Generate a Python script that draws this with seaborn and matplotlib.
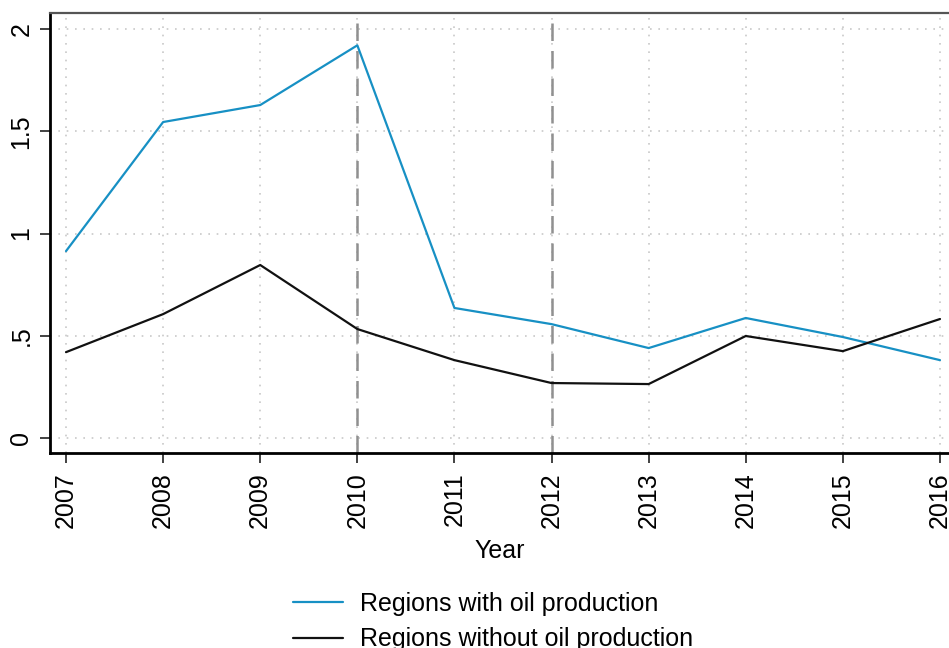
import matplotlib
matplotlib.use("Agg")
import matplotlib.pyplot as plt
import pandas as pd
import seaborn as sns

# data
years = [2007, 2008, 2009, 2010, 2011, 2012, 2013, 2014, 2015, 2016]
oil = [0.914, 1.545, 1.628, 1.920, 0.636, 0.557, 0.440, 0.587, 0.494, 0.381]
no_oil = [0.420, 0.606, 0.846, 0.533, 0.381, 0.269, 0.264, 0.499, 0.425, 0.582]
series_names = ['Regions with oil production', 'Regions without oil production']
event_years = [2010, 2012]
y_ticks = [0, 0.5, 1, 1.5, 2]
y_tick_labels = ['0', '.5', '1', '1.5', '2']

df = pd.concat([
    pd.DataFrame({'Year': years, 'value': oil, 'group': series_names[0]}),
    pd.DataFrame({'Year': years, 'value': no_oil, 'group': series_names[1]}),
])

sns.set_style('white')
plt.rcParams['font.family'] = ['Liberation Sans', 'DejaVu Sans']
plt.rcParams['text.color'] = 'black'
plt.rcParams['axes.labelcolor'] = 'black'
plt.rcParams['xtick.color'] = 'black'
plt.rcParams['ytick.color'] = 'black'

W, H = 949, 648
fig = plt.figure(figsize=(W / 100, H / 100), dpi=100)
ax = fig.add_axes([50 / W, 1 - 453 / H, 1 - 50 / W, (453 - 13) / H])

# grid
for yv in y_ticks:
    ax.axhline(yv, color='#c8c8c8', lw=1.2, ls=(0, (1, 4)), zorder=0)
for xv in years:
    ax.axvline(xv, color='#c8c8c8', lw=1.2, ls=(0, (1, 4)), zorder=0)
for xv in event_years:
    ax.axvline(xv, color='#909090', lw=1.8, ls=(0, (7, 4)), zorder=1)

sns.lineplot(data=df, x='Year', y='value', hue='group',
             palette=['#1790c4', '#111111'], linewidth=1.6,
             ax=ax, legend=False, zorder=3)

ax.set_xlim(2006.835, 2016.093)
ax.set_ylim(-0.073, 2.078)
ax.set_xticks(years)
ax.set_xticklabels([str(y) for y in years], rotation=90)
ax.set_yticks(y_ticks)
ax.set_yticklabels(y_tick_labels, rotation=90, va='center')
ax.tick_params(axis='both', labelsize=18, length=7, width=1.3, color='#333333',
               direction='out', bottom=True, left=True, labelcolor='black')
ax.tick_params(axis='x', pad=7)
ax.tick_params(axis='y', pad=5)
ax.set_xlabel('Year', fontsize=18, labelpad=8)
ax.set_ylabel('')

for side in ['left', 'bottom']:
    ax.spines[side].set_color('black')
    ax.spines[side].set_linewidth(2)
ax.spines['top'].set_color('#555555')
ax.spines['top'].set_linewidth(1.6)
ax.spines['right'].set_visible(False)

handles = [plt.Line2D([], [], color=c, lw=1.6) for c in ['#1790c4', '#111111']]
fig.legend(handles, series_names, loc='upper left',
           bbox_to_anchor=(293 / W, 1 - 592 / H), frameon=False,
           fontsize=18, handlelength=2.0, handletextpad=0.7,
           labelspacing=0.45, borderpad=0, borderaxespad=0)

plt.savefig('out.png', dpi=100)
